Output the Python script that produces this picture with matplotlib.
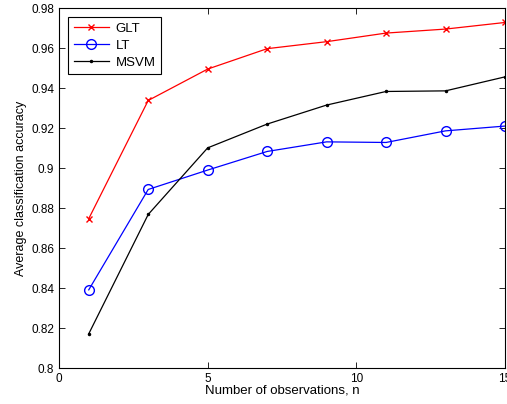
import matplotlib
matplotlib.use("Agg")
import matplotlib.pyplot as plt

plt.rcParams['font.family'] = ['Liberation Sans', 'DejaVu Sans']

n = [1, 3, 5, 7, 9, 11, 13, 15]
glt = [0.8747, 0.9338, 0.9495, 0.9597, 0.9632, 0.9675, 0.9695, 0.9728]
lt = [0.8391, 0.8893, 0.8990, 0.9083, 0.9131, 0.9128, 0.9186, 0.9210]
msvm = [0.8171, 0.8768, 0.9101, 0.9220, 0.9315, 0.9383, 0.9386, 0.9456]
yticks = [0.8, 0.82, 0.84, 0.86, 0.88, 0.9, 0.92, 0.94, 0.96, 0.98]
ytick_labels = ['0.8', '0.82', '0.84', '0.86', '0.88', '0.9', '0.92', '0.94', '0.96', '0.98']

fig = plt.figure(figsize=(5.07, 4.04), dpi=100)
ax = fig.add_axes([0.1164, 0.089, 0.8796, 0.891])

ax.plot(n, glt, color='red', marker='x', markersize=5, linewidth=0.9, label='GLT')
ax.plot(n, lt, color='blue', marker='o', markersize=7, markerfacecolor='none',
        linewidth=0.9, label='LT')
ax.plot(n, msvm, color='black', marker='.', markersize=3, linewidth=0.9, label='MSVM')

ax.set_xlim(0, 15)
ax.set_ylim(0.8, 0.98)
ax.set_xticks([0, 5, 10, 15])
ax.set_yticks(yticks)
ax.set_yticklabels(ytick_labels)
ax.tick_params(direction='in', top=True, right=True, labelsize=8.5, length=4, width=0.6)
for s in ax.spines.values():
    s.set_linewidth(0.8)

ax.set_xlabel('Number of observations, n', fontsize=9.5, labelpad=0)
ax.set_ylabel('Average classification accuracy', fontsize=9, labelpad=3)

leg = ax.legend(loc='upper left', fontsize=9.5, fancybox=False, edgecolor='black',
                framealpha=1, borderaxespad=0.7, handlelength=2.7,
                labelspacing=0.35, borderpad=0.4, handletextpad=0.5)
leg.get_frame().set_linewidth(0.8)

fig.savefig('out.png', dpi=100)
